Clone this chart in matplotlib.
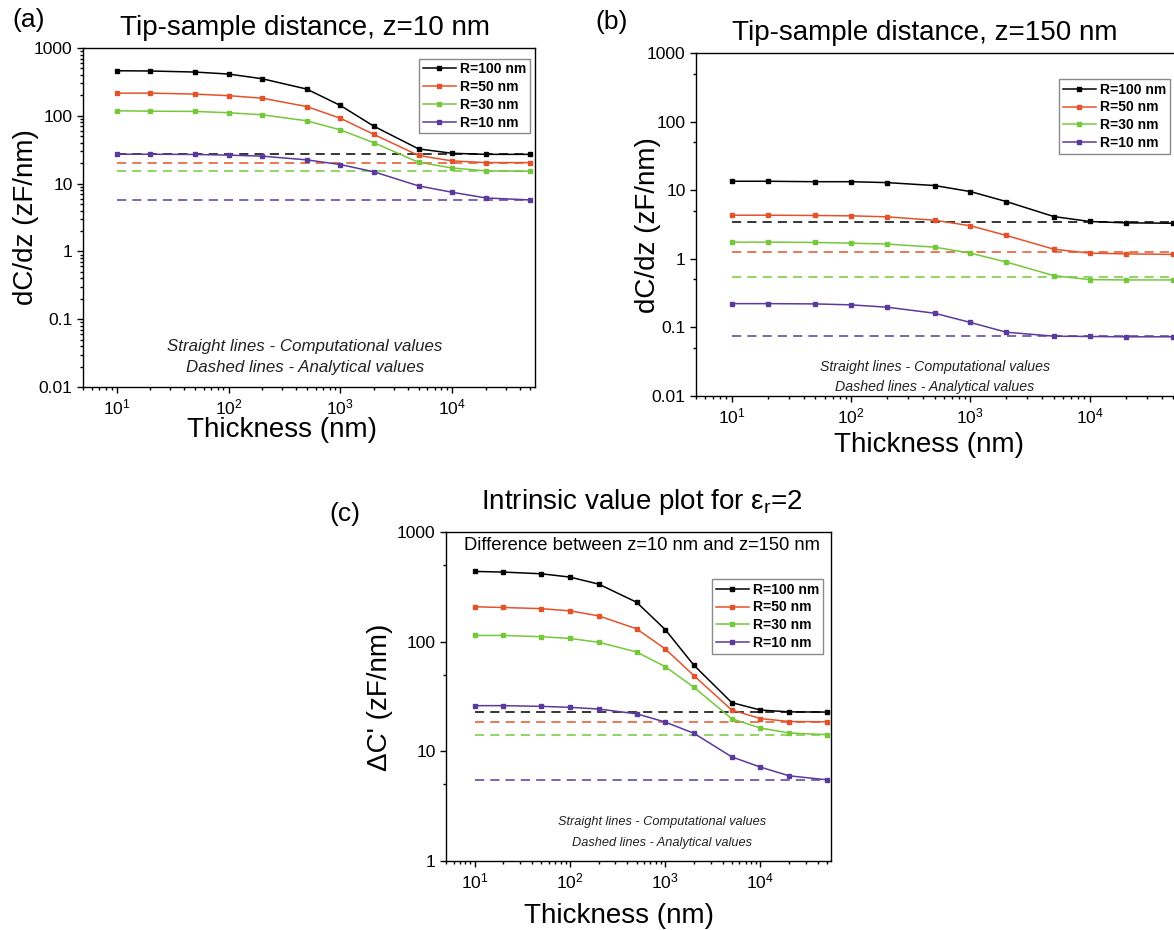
import matplotlib
matplotlib.use("Agg")
import matplotlib.pyplot as plt
from matplotlib.ticker import LogLocator, FuncFormatter, NullFormatter

plt.rcParams["font.family"] = ["Liberation Sans", "DejaVu Sans"]
plt.rcParams["mathtext.default"] = "regular"

W, H = 1174, 930

# thickness of the film (nm), shared by all panels
thickness = [10, 20, 50, 100, 200, 500, 1000, 2000, 5000, 10000, 20000, 50000]
labels = ["R=100 nm", "R=50 nm", "R=30 nm", "R=10 nm"]
colors = ["#000000", "#e4522b", "#74c83a", "#5a3a9c"]

# (a) z = 10 nm
a_r100 = [462, 458, 442, 413, 352, 248, 142, 70, 32.5, 28, 27, 27]
a_r50 = [216, 216, 209, 198, 182, 137, 92, 53, 26, 21.6, 20.4, 20.4]
a_r30 = [118.6, 117, 116, 111, 103.5, 84.4, 62, 40, 20.6, 17, 15.4, 15.2]
a_r10 = [27.1, 27.1, 26.9, 26.3, 25.4, 22.4, 19.1, 14.9, 9.25, 7.45, 6.14, 5.74]
a_analytic = [27, 20.4, 15.2, 5.74]

# (b) z = 150 nm
b_r100 = [13.5, 13.5, 13.3, 13.3, 12.9, 11.7, 9.55, 6.83, 4.13, 3.50, 3.34, 3.30]
b_r50 = [4.32, 4.32, 4.28, 4.23, 4.09, 3.65, 3.03, 2.19, 1.38, 1.21, 1.18, 1.16]
b_r30 = [1.75, 1.75, 1.73, 1.69, 1.64, 1.48, 1.21, 0.897, 0.568, 0.497, 0.492, 0.492]
b_r10 = [0.222, 0.222, 0.220, 0.213, 0.197, 0.161, 0.118, 0.0851, 0.0745, 0.0737, 0.0729, 0.0729]
b_analytic = [3.45, 1.25, 0.548, 0.0745]

# (c) difference between z=10 and z=150
c_r100 = [437, 431, 416, 388, 335, 229, 129, 61, 27.8, 23.8, 22.9, 22.8]
c_r50 = [208, 205, 200, 191, 172, 131, 86, 49, 23.8, 19.9, 18.7, 18.6]
c_r30 = [114, 114, 111, 107, 98.8, 80.6, 59.2, 38.4, 19.8, 16.3, 14.7, 14.2]
c_r10 = [26.1, 26.1, 25.7, 25.2, 24.3, 22.0, 18.5, 14.6, 8.9, 7.18, 5.98, 5.50]
c_analytic = [22.8, 18.6, 14.2, 5.50]


def px_axes(fig, x0, y0, x1, y1):
    """axes from pixel box (top-left origin)."""
    return fig.add_axes([x0 / W, 1 - y1 / H, (x1 - x0) / W, (y1 - y0) / H])


def px_text(fig, x, y, s, **kw):
    kw.setdefault("ha", "center")
    kw.setdefault("va", "center")
    fig.text(x / W, 1 - y / H, s, **kw)


def draw_panel(ax, series, analytic, ylim, ysubs, legend_anchor):
    for vals, ref, lab, col in zip(series, analytic, labels, colors):
        ax.plot(thickness, vals, color=col, lw=1.1, marker="s", ms=3.2,
                label=lab, zorder=3)
        ax.plot([thickness[0], thickness[-1]], [ref, ref], color=col, lw=1.1,
                ls=(0, (6, 4)), zorder=2)
    ax.set_xscale("log")
    ax.set_yscale("log")
    ax.set_xlim(5, 55000)
    ax.set_ylim(*ylim)
    ax.yaxis.set_major_formatter(FuncFormatter(lambda v, _: f"{v:g}"))
    ax.yaxis.set_minor_locator(LogLocator(base=10, subs=ysubs))
    ax.yaxis.set_minor_formatter(NullFormatter())
    ax.xaxis.set_minor_locator(LogLocator(base=10, subs=range(2, 10)))
    ax.xaxis.set_minor_formatter(NullFormatter())
    ax.tick_params(which="both", direction="out", top=False, right=False,
                   labelsize=12.6, width=1.0)
    ax.tick_params(which="major", length=4.5, pad=3)
    ax.tick_params(which="minor", length=2.5)
    for sp in ax.spines.values():
        sp.set_linewidth(1.0)
    leg = ax.legend(loc="upper right", bbox_to_anchor=legend_anchor,
                    prop={"weight": "bold", "size": 10}, frameon=True,
                    fancybox=False, framealpha=1, edgecolor="#8a8a8a",
                    handlelength=2.4, handletextpad=0.3, labelspacing=0.28,
                    borderpad=0.25, borderaxespad=0, numpoints=1)
    leg.get_frame().set_linewidth(1.0)


fig = plt.figure(figsize=(W / 100, H / 100), dpi=100)

ax_a = px_axes(fig, 83, 48, 535, 387)
draw_panel(ax_a, [a_r100, a_r50, a_r30, a_r10], a_analytic, (0.01, 1000),
           range(2, 10), (0.989, 0.968))
ax_b = px_axes(fig, 696, 53, 1178, 396)
draw_panel(ax_b, [b_r100, b_r50, b_r30, b_r10], b_analytic, (0.01, 1000),
           [5], (0.983, 0.924))
ax_c = px_axes(fig, 446, 532, 831, 861)
draw_panel(ax_c, [c_r100, c_r50, c_r30, c_r10], c_analytic, (1, 1000),
           [5], (0.979, 0.857))

# panel letters and titles
px_text(fig, 29, 20, "(a)", fontsize=19)
px_text(fig, 612, 22, "(b)", fontsize=19)
px_text(fig, 345, 514, "(c)", fontsize=19)
px_text(fig, 305, 28, "Tip-sample distance, z=10 nm", fontsize=20)
px_text(fig, 925, 33, "Tip-sample distance, z=150 nm", fontsize=20)
px_text(fig, 642, 502, r"Intrinsic value plot for ε$_{r}$=2", fontsize=20)
px_text(fig, 642, 546, "Difference between z=10 nm and z=150 nm", fontsize=13.2)

# axis labels
px_text(fig, 26, 217, "dC/dz (zF/nm)", fontsize=20, rotation=90)
px_text(fig, 648, 225, "dC/dz (zF/nm)", fontsize=20, rotation=90)
px_text(fig, 380, 697, "ΔC' (zF/nm)", fontsize=20, rotation=90)
px_text(fig, 282, 430, "Thickness (nm)", fontsize=20)
px_text(fig, 929, 445, "Thickness (nm)", fontsize=20)
px_text(fig, 619, 916, "Thickness (nm)", fontsize=20)

# notes inside the plots
notes = ["Straight lines - Computational values", "Dashed lines - Analytical values"]
for (x, y0, y1, fs) in [(305, 346, 367, 12.2), (935, 367, 387, 10.2), (662, 822, 843, 9.2)]:
    px_text(fig, x, y0, notes[0], fontsize=fs, style="italic", color="#222222")
    px_text(fig, x, y1, notes[1], fontsize=fs, style="italic", color="#222222")

fig.savefig("out.png", dpi=100)
